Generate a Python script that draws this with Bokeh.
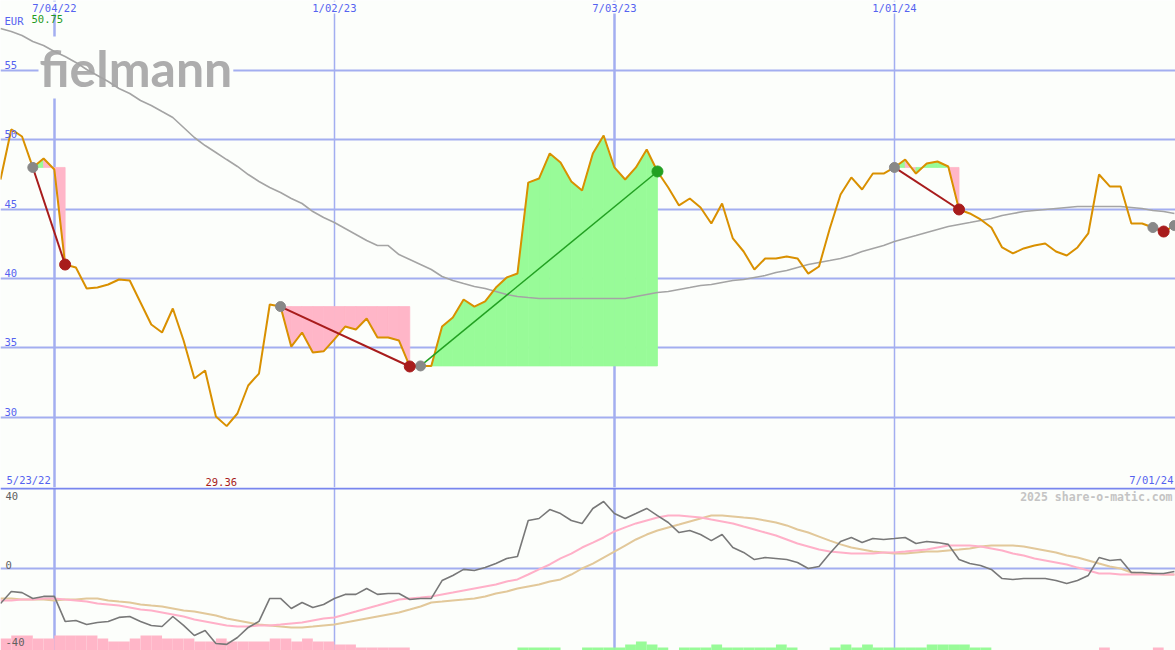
from bokeh.plotting import figure
from bokeh.models import Range1d, Span, Grid, FixedTicker
from bokeh.layouts import column
from bokeh.embed import file_html
from bokeh.resources import INLINE
from bokeh.core.properties import value

# ---------------- data ----------------
COMPANY = "fielmann"
CURRENCY = "EUR"
WATERMARK = "2025 share-o-matic.com"
START_LABEL = "5/23/22"
END_LABEL = "7/01/24"
TICK_WEEKS = [5, 31, 57, 83]
TICK_LABELS = ["7/04/22", "1/02/23", "7/03/23", "1/01/24"]
PRICE_TICKS = [30, 35, 40, 45, 50, 55]
OSC_TICKS = [40, 0, -40]

PRICE = [47.14, 50.75, 50.24, 48.01, 48.66, 47.86, 41.01, 40.80, 39.28, 39.35,
         39.57, 39.93, 39.86, 38.27, 36.69, 36.11, 37.84, 35.53, 32.79, 33.37,
         30.05, 29.36, 30.27, 32.29, 33.15, 38.13, 37.98, 35.09, 36.11, 34.67,
         34.75, 35.61, 36.54, 36.33, 37.12, 35.75, 35.75, 35.53, 33.66, 33.70,
         33.70, 36.54, 37.19, 38.49, 37.98, 38.35, 39.35, 40.08, 40.36, 46.92,
         47.21, 49.02, 48.37, 47.00, 46.35, 49.02, 50.31, 48.01, 47.14, 48.01,
         49.30, 47.72, 46.56, 45.27, 45.77, 45.12, 43.97, 45.41, 42.89, 41.95,
         40.65, 41.45, 41.45, 41.59, 41.45, 40.36, 40.87, 43.61, 46.06, 47.29,
         46.42, 47.57, 47.57, 48.01, 48.58, 47.57, 48.29, 48.44, 48.08, 44.98,
         44.69, 44.26, 43.68, 42.24, 41.81, 42.17, 42.38, 42.53, 41.95, 41.66,
         42.24, 43.25, 47.50, 46.64, 46.64, 43.97, 43.97, 43.68, 43.39, 43.82]

MOVING_AVG = [58.03, 57.81, 57.52, 57.09, 56.80, 56.37, 56.01, 55.58, 55.07, 54.64,
              54.21, 53.70, 53.34, 52.84, 52.48, 52.04, 51.61, 50.89, 50.17, 49.59,
              49.09, 48.58, 48.08, 47.50, 47.00, 46.56, 46.20, 45.77, 45.41, 44.83,
              44.40, 44.04, 43.61, 43.18, 42.74, 42.38, 42.38, 41.73, 41.37, 41.01,
              40.65, 40.15, 39.86, 39.64, 39.43, 39.28, 39.07, 38.85, 38.71, 38.63,
              38.56, 38.56, 38.56, 38.56, 38.56, 38.56, 38.56, 38.56, 38.56, 38.71,
              38.85, 38.99, 39.07, 39.21, 39.35, 39.50, 39.57, 39.72, 39.86, 39.93,
              40.08, 40.22, 40.44, 40.58, 40.80, 41.01, 41.16, 41.30, 41.45, 41.66,
              41.95, 42.17, 42.38, 42.67, 42.89, 43.10, 43.32, 43.54, 43.75, 43.90,
              44.04, 44.19, 44.33, 44.55, 44.69, 44.83, 44.91, 44.98, 45.05, 45.12,
              45.19, 45.19, 45.19, 45.19, 45.19, 45.12, 45.05, 44.91, 44.83, 44.69]

OSC_FAST = [-19.2, -12.6, -13.2, -16.4, -15.3, -15.3, -29.0, -28.5, -30.7, -29.6,
            -29.0, -26.8, -26.3, -29.0, -31.2, -31.8, -26.3, -31.2, -36.7, -34.0,
            -41.1, -41.6, -37.8, -32.3, -29.0, -16.4, -16.4, -21.9, -18.6, -21.4,
            -19.7, -16.4, -14.2, -14.2, -11.0, -14.2, -13.7, -13.7, -17.0, -16.4,
            -16.4, -6.6, -3.8, -0.5, -1.1, 0.5, 2.7, 5.5, 6.6, 26.3,
            27.4, 32.3, 30.1, 26.3, 24.7, 32.9, 36.7, 30.1, 27.4, 30.1,
            32.9, 29.0, 25.2, 19.7, 20.8, 18.6, 15.3, 18.6, 11.5, 8.8,
            4.9, 6.0, 5.5, 4.9, 3.3, 0.0, 1.1, 8.2, 14.8, 17.0,
            14.2, 16.4, 15.9, 16.4, 17.0, 13.7, 14.8, 14.2, 13.2, 4.9,
            2.7, 1.6, -0.5, -5.5, -6.0, -5.5, -5.5, -5.5, -6.6, -8.2,
            -6.6, -3.8, 6.0, 4.4, 4.9, -2.2, -2.2, -2.7, -2.7, -1.6]

OSC_MID = [-17.5, -17.5, -17.0, -17.0, -16.4, -16.4, -17.0, -17.5, -18.1, -19.2,
           -19.7, -20.3, -21.4, -22.5, -23.0, -24.1, -25.2, -26.3, -27.9, -29.0,
           -30.1, -31.2, -31.8, -31.8, -31.2, -31.2, -30.7, -30.1, -29.6, -28.5,
           -27.4, -26.8, -25.2, -23.6, -21.9, -20.3, -18.6, -17.0, -16.4, -15.9,
           -15.3, -14.2, -13.2, -12.1, -11.0, -9.9, -8.8, -7.1, -6.0, -3.3,
           -0.5, 2.2, 5.5, 8.2, 11.5, 14.2, 17.0, 20.3, 22.5, 24.7,
           26.3, 27.9, 29.0, 29.0, 28.5, 27.9, 26.8, 25.8, 24.7, 23.0,
           21.4, 19.7, 18.1, 15.9, 13.7, 12.1, 10.4, 9.3, 8.8, 8.2,
           8.2, 8.2, 8.8, 8.8, 9.3, 9.9, 10.4, 11.5, 12.6, 12.6,
           12.6, 12.1, 11.0, 9.9, 8.2, 7.1, 5.5, 4.4, 3.3, 2.2,
           0.5, -1.1, -2.7, -2.7, -3.3, -3.3, -3.3, -3.3, -3.3, -3.3]

OSC_SLOW = [-16.4, -16.4, -17.0, -17.0, -17.0, -17.5, -17.0, -17.0, -16.4, -16.4,
            -17.5, -18.1, -18.6, -19.7, -20.3, -20.8, -21.9, -23.0, -23.6, -24.7,
            -25.8, -27.4, -28.5, -29.6, -30.7, -31.2, -31.8, -32.3, -32.3, -31.8,
            -31.2, -30.7, -29.6, -28.5, -27.4, -26.3, -25.2, -24.1, -22.5, -20.8,
            -18.6, -18.1, -17.5, -17.0, -16.4, -15.3, -13.7, -12.6, -11.0, -9.9,
            -8.8, -7.1, -6.0, -3.3, 0.0, 2.7, 6.0, 9.3, 12.6, 15.9,
            18.6, 20.8, 22.5, 24.1, 25.8, 27.4, 29.0, 29.0, 28.5, 27.9,
            27.4, 26.3, 25.2, 23.6, 21.4, 19.7, 17.5, 15.3, 13.2, 11.5,
            10.4, 9.3, 8.8, 8.2, 8.2, 8.8, 9.3, 9.3, 9.9, 10.4,
            11.0, 12.1, 12.6, 12.6, 12.6, 12.1, 11.0, 9.9, 8.8, 7.1,
            6.0, 4.4, 2.7, 1.1, 0.0, -2.2, -2.7, -2.7, -3.3, -3.3]

# weekly signal histogram (negative = sell / pink, positive = buy / green)
HIST = [-4, -5, -5, -4, -4, -5, -5, -5, -5, -4,
        -3, -3, -4, -5, -5, -4, -4, -4, -3, -3,
        -4, -3, -3, -3, -3, -4, -4, -3, -4, -3,
        -3, -2, -2, -1, -1, -1, -1, -1, 0, 0,
        0, 0, 0, 0, 0, 0, 0, 0, 1, 1,
        1, 1, 0, 0, 1, 1, 1, 1, 2, 3,
        2, 1, 0, 1, 1, 1, 2, 1, 1, 1,
        1, 1, 2, 1, 0, 0, 0, 1, 2, 1,
        2, 1, 1, 1, 1, 1, 2, 2, 2, 2,
        1, 1, 0, 0, 0, 0, 0, 0, 0, 0,
        0, 0, -1, 0, 0, 0, 0, -1, 0, 0]

TRADE_ENTRY = [3, 26, 39, 83, 107]
TRADE_EXIT = [6, 38, 61, 89, 108]
TRADE_SIDE = ["short", "short", "long", "short", "short"]
OPEN_ENTRY = [109]

WEEK = list(range(len(PRICE)))

# ---------------- styling / geometry ----------------
BG = "#fcfefb"
GRID = "#a3aef0"
SEP = "#7886ee"
BLUE = "#5563f0"
ORANGE = "#d99000"
MA_GRAY = "#a4a4a4"
PINK = "#ffb6c8"
LGREEN = "#98fb98"
DOT_GRAY = "#888888"
RED = "#a81c1c"
GREEN = "#22a022"
OSC_GRAY = "#787878"
OSC_PINK = "#ffb0c8"
OSC_TAN = "#e2c89a"
TXT_GRAY = "#606060"
WM_GRAY = "#c4c4c4"
MONO = value("DejaVu Sans Mono")
LOGO_SIZE = 50

W = 1175
H_TOP = 487
H_BOT = 163
PX_WEEK = 10.77
PX_EUR = 13.87
PX_OSC = 1.825


def wx(px):
    return px / PX_WEEK


def py(px):
    return 55 + (70 - px) / PX_EUR


def oy(px):
    return (568 - px) / PX_OSC


x_start = wx(0)
x_end = x_start + W / PX_WEEK
y_end = py(0)
y_start = y_end - H_TOP / PX_EUR
o_end = oy(487)
o_start = o_end - H_BOT / PX_OSC

xr = Range1d(x_start, x_end)

thick = [t for t, l in zip(TICK_WEEKS, TICK_LABELS) if l.startswith("7/")]
thin = [t for t, l in zip(TICK_WEEKS, TICK_LABELS) if not l.startswith("7/")]


def base_fig(h, yr):
    f = figure(width=W, height=h, x_range=xr, y_range=yr,
               x_axis_location=None, y_axis_location=None,
               output_backend="svg", toolbar_location=None, min_border=0,
               background_fill_color=BG, border_fill_color=BG,
               outline_line_color=None)
    f.center = [c for c in f.center if not isinstance(c, Grid)]
    f.add_layout(Grid(dimension=0, ticker=FixedTicker(ticks=thick),
                      grid_line_color=GRID, grid_line_width=2.5), "center")
    f.add_layout(Grid(dimension=0, ticker=FixedTicker(ticks=thin),
                      grid_line_color=GRID, grid_line_width=1.5), "center")
    return f


def label(f, xs, ys, texts, color, align="left", baseline="bottom",
          size="10.5px", bold=False, bg=None):
    kw = dict(text_align=align, text_baseline=baseline, text_font=MONO,
              text_font_size=size, text_color=color)
    if bold:
        kw["text_font_style"] = "bold"
    if bg:
        kw["background_fill_color"] = bg
    f.text(x=xs, y=ys, text=texts, **kw)


# ---------------- price panel ----------------
p = base_fig(H_TOP, Range1d(y_start, y_end))
p.add_layout(Grid(dimension=1, ticker=FixedTicker(ticks=PRICE_TICKS),
                  grid_line_color=GRID, grid_line_width=2), "center")

# logo
p.text(x=[wx(38)], y=[py(90 - 0.46 * LOGO_SIZE)], text=[COMPANY],
       text_font=value("Lato"), text_font_size=f"{LOGO_SIZE}px",
       text_font_style="bold", text_color="#adadad",
       text_align="left", text_baseline="alphabetic",
       background_fill_color=BG, padding=1)

# trade fill areas
fxs, fys, fcol = [], [], []
for e, x in zip(TRADE_ENTRY, TRADE_EXIT):
    lvl = PRICE[e]
    for k in range(e, x):
        fxs.append([WEEK[k], WEEK[k], WEEK[k + 1], WEEK[k + 1]])
        fys.append([lvl, PRICE[k], PRICE[k + 1], lvl])
        fcol.append(LGREEN if PRICE[k + 1] >= lvl else PINK)
p.patches(xs=fxs, ys=fys, fill_color=fcol, line_color=fcol, line_width=0.8)

p.line(WEEK, MOVING_AVG, line_color=MA_GRAY, line_width=1.6)
p.line(WEEK, PRICE, line_color=ORANGE, line_width=2)

for e, x, s in zip(TRADE_ENTRY, TRADE_EXIT, TRADE_SIDE):
    c = RED if s == "short" else GREEN
    p.line([WEEK[e], WEEK[x]], [PRICE[e], PRICE[x]], line_color=c,
           line_width=2 if s == "short" else 1.5)

ents = TRADE_ENTRY + OPEN_ENTRY
p.scatter([WEEK[i] for i in ents], [PRICE[i] for i in ents], size=10,
          fill_color=DOT_GRAY, line_color=DOT_GRAY)
for x, s in zip(TRADE_EXIT, TRADE_SIDE):
    c = RED if s == "short" else GREEN
    p.scatter([WEEK[x]], [PRICE[x]], size=11, fill_color=c, line_color=c)

# texts
label(p, TICK_WEEKS, [py(1)] * len(TICK_WEEKS), TICK_LABELS, BLUE,
      align="center", baseline="top", bg=BG)
label(p, [wx(4)] * len(PRICE_TICKS), [v + 1.5 / PX_EUR for v in PRICE_TICKS],
      [str(v) for v in PRICE_TICKS], BLUE)
label(p, [wx(4)], [py(14)], [CURRENCY], BLUE, baseline="top")
label(p, [wx(31)], [py(14)], [f"{max(PRICE):.2f}"], "#1f9a1f", baseline="top")
imin = PRICE.index(min(PRICE))
label(p, [WEEK[imin] - 0.5], [py(485)], [f"{min(PRICE):.2f}"], RED,
      align="center")
label(p, [wx(6)], [py(485)], [START_LABEL], BLUE)
label(p, [wx(1173)], [py(485)], [END_LABEL], BLUE, align="right")

# ---------------- oscillator panel ----------------
q = base_fig(H_BOT, Range1d(o_start, o_end))
q.add_layout(Grid(dimension=1, ticker=FixedTicker(ticks=[0]),
                  grid_line_color=GRID, grid_line_width=2), "center")
q.extra_y_ranges = {"hist": Range1d(0, H_BOT / 3.0)}
q.vbar(x=[w + 0.5 for w in WEEK], width=1, bottom=0,
       top=[abs(h) for h in HIST],
       fill_color=[PINK if h < 0 else LGREEN for h in HIST],
       line_color=None, y_range_name="hist")
q.add_layout(Span(location=o_end - 1.0 / PX_OSC, dimension="width",
                  line_color=SEP, line_width=2))
q.line(WEEK, OSC_SLOW, line_color=OSC_TAN, line_width=2)
q.line(WEEK, OSC_MID, line_color=OSC_PINK, line_width=2)
q.line(WEEK, OSC_FAST, line_color=OSC_GRAY, line_width=1.6)
for v in OSC_TICKS:
    label(q, [wx(5)], [v], [str(v)], TXT_GRAY,
          baseline="bottom" if v == 0 else "middle")
label(q, [wx(1172)], [oy(496)], [WATERMARK], WM_GRAY, align="right",
      baseline="middle", size="11.5px", bold=True)

layout = column(p, q, spacing=0)
open("out.html", "w").write(file_html(layout, INLINE))
